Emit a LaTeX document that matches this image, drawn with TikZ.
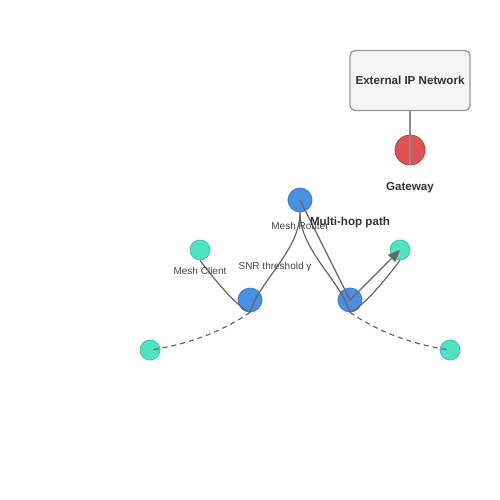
\documentclass[tikz,border=0pt]{standalone}
\usepackage{fontspec}
\setmainfont{Liberation Sans}
\usetikzlibrary{arrows.meta}
\definecolor{routerblue}{HTML}{4A90E2}
\definecolor{routeredge}{HTML}{3A7BC8}
\definecolor{clientteal}{HTML}{50E3C2}
\definecolor{clientedge}{HTML}{3CC8A6}
\definecolor{gwred}{HTML}{E05252}
\definecolor{gwedge}{HTML}{C03C3C}
\definecolor{linegray}{HTML}{666666}
\definecolor{boxfill}{HTML}{F5F5F5}
\definecolor{boxedge}{HTML}{999999}
\definecolor{darktext}{HTML}{333333}
\definecolor{smalltext}{HTML}{444444}
\tikzset{
  routernode/.style={circle,fill=routerblue,draw=routeredge,line width=0.8pt,minimum size=24pt,inner sep=0pt},
  clientnode/.style={circle,fill=clientteal,draw=clientedge,line width=0.8pt,minimum size=20pt,inner sep=0pt},
  gwnode/.style={circle,fill=gwred,draw=gwedge,line width=0.8pt,minimum size=30pt,inner sep=0pt},
  netbox/.style={rectangle,rounded corners=5pt,fill=boxfill,draw=boxedge,line width=1.3pt,minimum width=120pt,minimum height=60pt,inner sep=0pt,font=\bfseries\fontsize{11.6}{14}\selectfont,text=darktext},
  boldlabel/.style={font=\bfseries\fontsize{11.6}{14}\selectfont,text=darktext,inner sep=0pt,anchor=base},
  smalllabel/.style={font=\fontsize{10}{12}\selectfont,text=smalltext,inner sep=0pt,anchor=base},
  link/.style={draw=linegray,line width=1.2pt},
  wlink/.style={draw=linegray,line width=1.2pt,dash pattern=on 5pt off 4pt},
}
\begin{document}
\begin{tikzpicture}[x=1pt,y=-1pt]
\useasboundingbox (0,0) rectangle (500,500);
% nodes
\node[netbox] (net) at (410,80.5) {External IP Network};
\node[gwnode] (gw) at (410,150) {};
\node[routernode] (mr) at (300,200) {};
\node[routernode] (rl) at (250,300) {};
\node[routernode] (rr) at (350,300) {};
\node[clientnode] (cl) at (200,250) {};
\node[clientnode] (cr) at (400,250) {};
\node[clientnode] (cbl) at (150,350) {};
\node[clientnode] (cbr) at (450,350) {};
% connectors
\draw[link,draw=gray!90] (net.south) -- (gw.south);
\draw[link] (mr.south) .. controls (300,250) and (260,280) .. (rl.south);
\draw[link] (mr.south) .. controls (300,250) and (340,280) .. (rr.south);
\draw[link] (cl.south) .. controls (215,280) and (235,305) .. (rl.south);
\draw[link] (rr.south) .. controls (365,305) and (385,280) .. (cr.south);
\draw[wlink] (rl.south) .. controls (220,333) and (185,345) .. (cbl.center);
\draw[wlink] (rr.south) .. controls (380,333) and (415,345) .. (cbr.center);
\draw[link,-{Triangle[length=12pt,width=10pt]}] (mr.center) -- (rr.center) -- (cr.center);
% labels
\node[boldlabel] (gwl) at (410,190.5) {Gateway};
\node[smalllabel] (mrl) at (300,229.5) {Mesh Router};
\node[boldlabel] (mhl) at (350,225.5) {Multi-hop path};
\node[smalllabel] (cll) at (200,274.5) {Mesh Client};
\node[smalllabel] (snr) at (275,269.5) {SNR threshold γ};
\end{tikzpicture}
\end{document}
